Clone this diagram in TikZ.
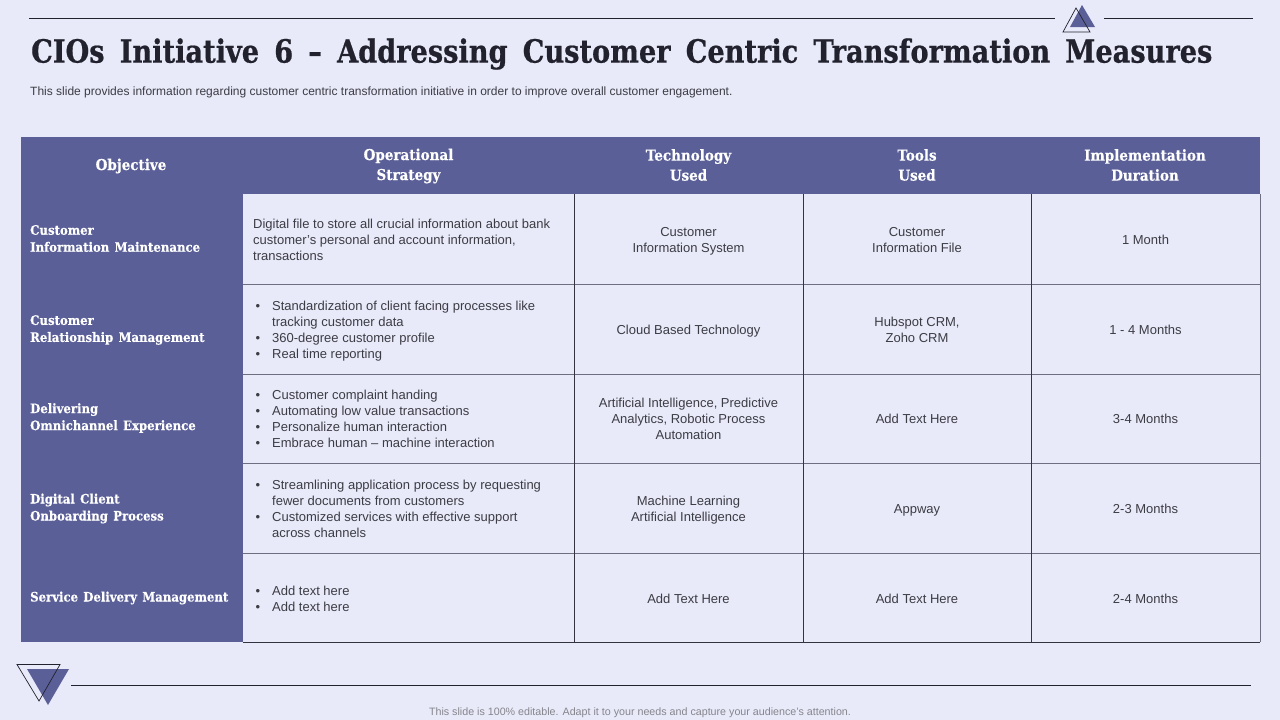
\documentclass[tikz,border=0pt]{standalone}
\usepackage{fontspec}
\setmainfont{Liberation Sans}
\newfontfamily\slabfont{DejaVu Serif Bold}[FakeStretch=0.9,WordSpace=1.3,FakeBold=0.3]
\newfontfamily\slabtitle{DejaVu Serif Bold}[FakeStretch=0.85,WordSpace=1.6,FakeBold=0.6]
\definecolor{pagebg}{HTML}{E8EAF9}
\definecolor{tablebg}{HTML}{5A5F98}
\definecolor{gridcol}{HTML}{33343F}
\definecolor{softcol}{HTML}{6E6F80}
\definecolor{inkcol}{HTML}{22222E}
\definecolor{bodycol}{HTML}{3C3C44}
\newcommand{\blt}{\makebox[18.5pt][l]{\hspace{2pt}•}}
\newcommand{\ind}{\hspace*{18.5pt}}
\begin{document}
\begin{tikzpicture}[x=1pt,y=-1pt,
  head node/.style={font=\slabfont\fontsize{15}{20}\selectfont,text=white,align=center},
  side node/.style={anchor=west,inner sep=0pt,font=\slabfont\fontsize{13}{17}\selectfont,text=white,align=left},
  list node/.style={anchor=west,inner sep=0pt,font=\fontsize{13}{16}\selectfont,text=bodycol,align=left},
  cell text/.style={font=\fontsize{13}{16}\selectfont,text=bodycol,align=center},
  rule line/.style={draw=inkcol,line width=0.8pt},
  row line/.style={draw=softcol,line width=1pt},
  col line/.style={draw=gridcol,line width=0.8pt}]

  \useasboundingbox (0,0) rectangle (1280,720);
  \fill[pagebg] (0,0) rectangle (1280,720);

  % top and bottom marks
  \coordinate (tl1) at (29,18);
  \coordinate (tl2) at (1055,18);
  \coordinate (tl3) at (1104,18);
  \coordinate (tl4) at (1253,18);
  \coordinate (bl1) at (71,685);
  \coordinate (bl2) at (1251,685);
  \draw[rule line] (tl1) -- (tl2);
  \draw[rule line] (tl3) -- (tl4);
  \draw[rule line] (bl1) -- (bl2);
  \fill[tablebg] (1082,5) -- (1095,27) -- (1070,27) -- cycle;
  \draw[inkcol,line width=0.7pt] (1076,8) -- (1090,32) -- (1063,32) -- cycle;
  \fill[tablebg] (27,669) -- (69,669) -- (48,705) -- cycle;
  \draw[inkcol,line width=0.7pt] (17,664.5) -- (60,664.5) -- (39,701) -- cycle;

  \node[anchor=west,inner sep=0pt,text=inkcol,font=\slabtitle\fontsize{32}{36}\selectfont] (title) at (31,54)
    {CIOs Initiative 6 – Addressing Customer Centric Transformation Measures};
  \node[anchor=west,inner sep=0pt,text=bodycol,font=\fontsize{12}{14}\selectfont] (subtitle) at (30,92)
    {This slide provides information regarding customer centric transformation initiative in order to improve overall customer engagement.};

  % table
  \fill[tablebg] (21,137) rectangle (1260,194);
  \fill[tablebg] (21,194) rectangle (243,642);

  \foreach \y in {284,374,463,553}
    \draw[row line] (243,\y) -- (1260,\y);
  \draw[col line] (243,642) -- (1260,642);
  \foreach \x in {574.5,803,1031.7}
    \draw[col line] (\x,194) -- (\x,642);
  \draw[row line] (1260,194) -- (1260,642);

  \node[head node] (h1) at (131,166) {Objective};
  \node[head node] (h2) at (408.5,166) {Operational\\Strategy};
  \node[head node] (h3) at (688.5,165) {Technology\\Used};
  \node[head node] (h4) at (917,165) {Tools\\Used};
  \node[head node] (h5) at (1145,165) {Implementation\\Duration};

  \node[side node] (s1) at (30,238.5) {Customer\\Information Maintenance};
  \node[side node] (s2) at (30,330) {Customer\\Relationship Management};
  \node[side node] (s3) at (30,418) {Delivering\\Omnichannel Experience};
  \node[side node] (s4) at (30,508.5) {Digital Client\\Onboarding Process};
  \node[side node] (s5) at (30,598) {Service Delivery Management};

  \node[list node] (a1) at (253,239.5) {Digital file to store all crucial information about bank\\customer's personal and account information,\\transactions};
  \node[list node] (a2) at (253.5,331) {\blt Standardization of client facing processes like\\\ind tracking customer data\\\blt 360-degree customer profile\\\blt Real time reporting};
  \node[list node] (a3) at (253.5,418.5) {\blt Customer complaint handing\\\blt Automating low value transactions\\\blt Personalize human interaction\\\blt Embrace human – machine interaction};
  \node[list node] (a4) at (253.5,508.5) {\blt Streamlining application process by requesting\\\ind fewer documents from customers\\\blt Customized services with effective support\\\ind across channels};
  \node[list node] (a5) at (253.5,598.5) {\blt Add text here\\\blt Add text here};

  \node[cell text] (b1) at (688.5,241.5) {Customer\\Information System};
  \node[cell text] (b2) at (688.5,331) {Cloud Based Technology};
  \node[cell text] (b3) at (688.5,418.5) {Artificial Intelligence, Predictive\\Analytics, Robotic Process\\Automation};
  \node[cell text] (b4) at (688.5,510.5) {Machine Learning\\Artificial Intelligence};
  \node[cell text] (b5) at (688.5,598.5) {Add Text Here};

  \node[cell text] (c1) at (917,240.5) {Customer\\Information File};
  \node[cell text] (c2) at (917,329.5) {Hubspot CRM,\\Zoho CRM};
  \node[cell text] (c3) at (917,418.5) {Add Text Here};
  \node[cell text] (c4) at (917,510.5) {Appway};
  \node[cell text] (c5) at (917,598.5) {Add Text Here};

  \node[cell text] (d1) at (1145.5,239.5) {1 Month};
  \node[cell text] (d2) at (1145.5,329.5) {1 - 4 Months};
  \node[cell text] (d3) at (1145.5,418.5) {3-4 Months};
  \node[cell text] (d4) at (1145.5,508.5) {2-3 Months};
  \node[cell text] (d5) at (1145.5,598.5) {2-4 Months};

  \node[inner sep=0pt,text=gridcol!60,font=\fontsize{10.7}{12}\selectfont] (foot) at (640,712.5)
    {This slide is 100\% editable. Adapt it to your needs and capture your audience's attention.};
\end{tikzpicture}
\end{document}
